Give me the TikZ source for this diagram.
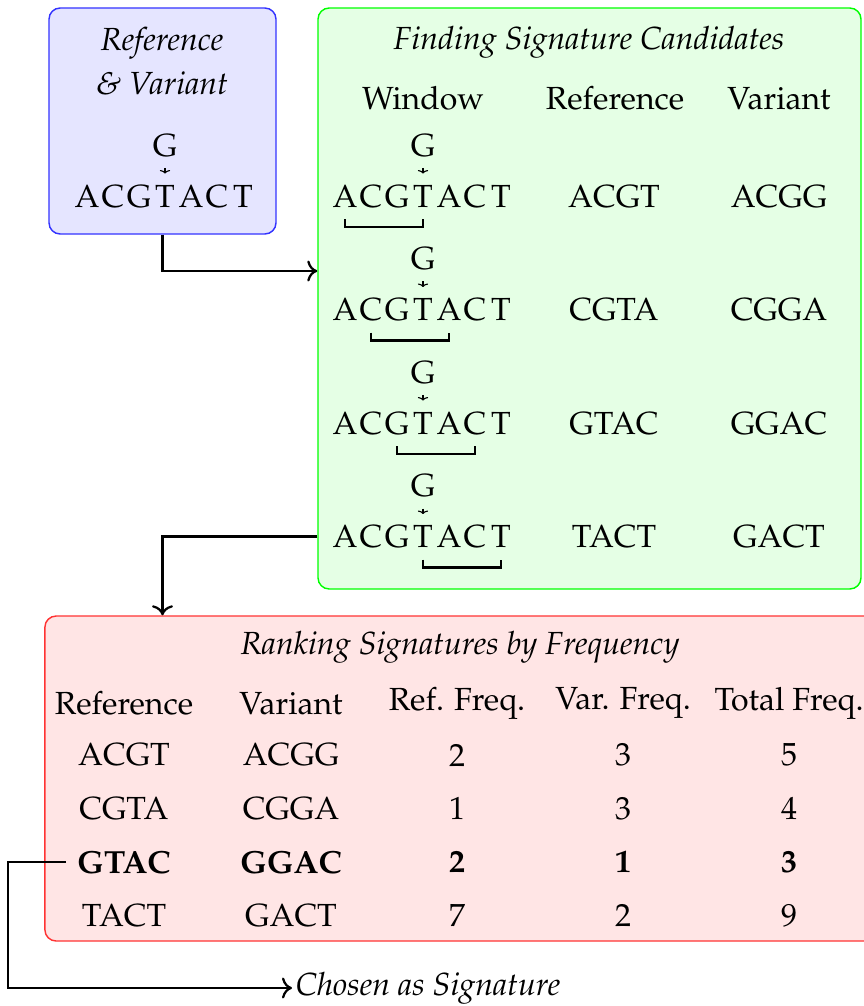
\documentclass[tikz,border=0pt]{standalone}
\usepackage[T1]{fontenc}
\usepackage{palatino}
\usetikzlibrary{calc,arrows.meta}
\begin{document}
\begin{tikzpicture}[x=0.3125pt,y=-0.3125pt,
  box/.style={draw, rounded corners=3.5pt, line width=0.45pt, inner sep=0pt},
  conn/.style={->, line width=0.7pt},
  sarrow/.style={-{To[length=1.1pt,width=3.2pt]}, line width=0.35pt},
  brk/.style={line width=0.7pt},
  let/.style={anchor=base},
  ttl/.style={font=\itshape}]
\useasboundingbox (0,0) rectangle (864,1006);

% boxes
\node[box, draw=blue!80, fill=blue!10, minimum width=70.94pt, minimum height=70.63pt] (bbox) at (162.5,121) {};
\node[box, draw=green, fill=green!10, minimum width=169.69pt, minimum height=181.56pt] (gbox) at (589.5,298.5) {};
\node[box, draw=red!80, fill=red!10, minimum width=261pt, minimum height=101.56pt] (rbox) at (462.5,778.5) {};

% blue box content
\node[ttl] (bt1) at (162,43) {Reference};
\node[ttl] (bt2) at (162,83) {\& Variant};
\foreach \l [count=\i] in {A,C,G,T,A,C,T}
  \node[let] (bc\i) at ({87+26*(\i-1)},207) {\l};
\node[let] (bG) at ($(bc4.base)+(0,-51)$) {G};
\draw[sarrow] (bG.south) -- (bc4.north);

% green box content
\node[ttl] (gt) at (589,42) {Finding Signature Candidates};
\node (gh1) at (423,98) {Window};
\node (gh2) at (615,98) {Reference};
\node (gh3) at (779,98) {Variant};
\foreach \r/\ref/\var in {1/ACGT/ACGG, 2/CGTA/CGGA, 3/GTAC/GGAC, 4/TACT/GACT} {
  \pgfmathsetmacro\yb{207+113.5*(\r-1)}
  \pgfmathtruncatemacro\e{\r+3}
  \foreach \l [count=\i] in {A,C,G,T,A,C,T}
    \node[let] (g\r c\i) at ({345+26*(\i-1)},\yb) {\l};
  \node[let] (g\r G) at ($(g\r c4.base)+(0,-51)$) {G};
  \draw[sarrow] (g\r G.south) -- (g\r c4.north);
  \draw[brk] ($(g\r c\r.base)+(0,12)$) -- ++(0,8) -| ($(g\r c\e.base)+(0,12)$);
  \node[let] (g\r ref) at (614,\yb) {\ref};
  \node[let] (g\r var) at (779,\yb) {\var};
}

% red box content
\node[ttl] (rt) at (460,647) {Ranking Signatures by Frequency};
\node (h1) at (124,703) {Reference};
\node (h2) at (291,703) {Variant};
\node (h3) at (457,703) {Ref. Freq.};
\node (h4) at (623,703) {Var. Freq.};
\node (h5) at (789,703) {Total Freq.};
\foreach \a/\b/\c/\d/\e [count=\k] in {ACGT/ACGG/2/3/5, CGTA/CGGA/1/3/4, GTAC/GGAC/2/1/3, TACT/GACT/7/2/9} {
  \pgfmathsetmacro\yy{755+53.5*(\k-1)}
  \ifnum\k=3 \tikzset{cell/.style={font=\bfseries}}\else\tikzset{cell/.style={}}\fi
  \node[cell] (t\k c1) at (124,\yy) {\a};
  \node[cell] (t\k c2) at (291,\yy) {\b};
  \node[cell] (t\k c3) at (457,\yy) {\c};
  \node[cell] (t\k c4) at (623,\yy) {\d};
  \node[cell] (t\k c5) at (789,\yy) {\e};
}
\node[ttl, anchor=west, inner sep=1pt] (chosen) at (292,988) {Chosen as Signature};

% connectors
\draw[conn] (bbox.south) |- (gbox.west |- 0,271);
\draw[conn] (gbox.west |- g4c1) -| (bbox.south |- rbox.north);
\draw[conn] (t3c1.west) -- ++(-58,0) |- (chosen.west);
\end{tikzpicture}
\end{document}
